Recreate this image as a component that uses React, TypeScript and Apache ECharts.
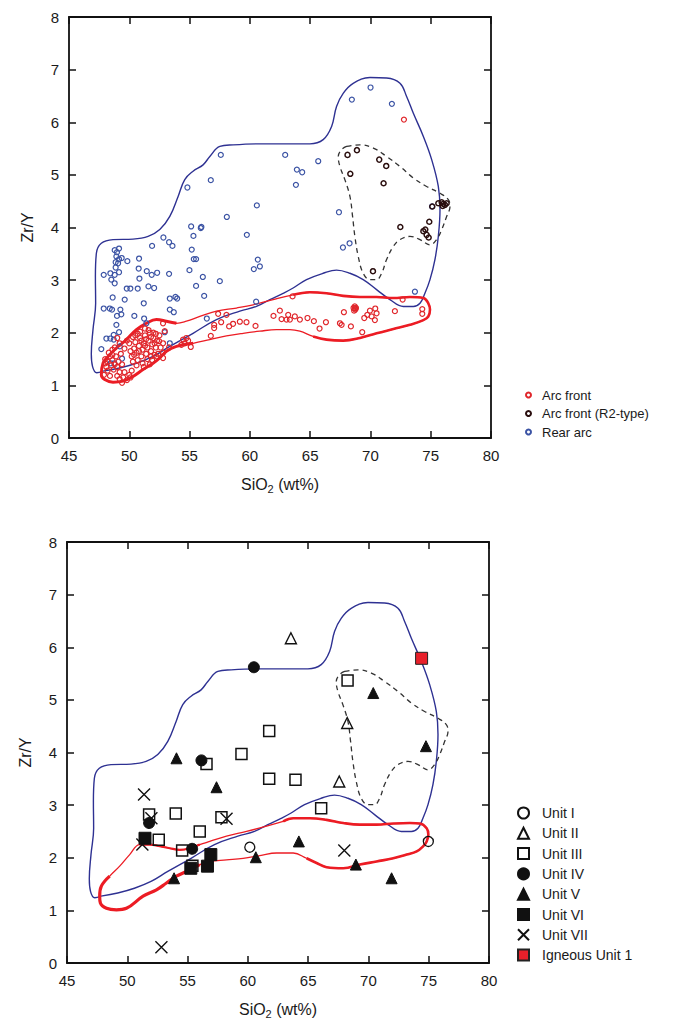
import React, { useEffect, useRef } from "react";
import * as echarts from "echarts";

const FONT = "Liberation Sans, Arial, Helvetica, sans-serif";

// ---------- Top panel data (SiO2 wt%, Zr/Y) ----------
const rearArc: number[][] = [
  [70.01, 6.66], [68.46, 6.43], [71.78, 6.35],
  [57.59, 5.38], [62.93, 5.38], [65.67, 5.26], [56.76, 4.9], [54.82, 4.76], [63.9, 5.1], [64.34, 5.05], [63.82, 4.81],
  [60.58, 4.42], [58.09, 4.2], [67.39, 4.29], [55.13, 4.02], [55.93, 3.99], [55.98, 4.01], [55.32, 3.84], [59.75, 3.86], [67.72, 3.62], [68.27, 3.7],
  [52.83, 3.81], [51.89, 3.65], [53.3, 3.72], [53.58, 3.65], [55.18, 3.58], [55.35, 3.4], [55.54, 3.4], [60.66, 3.39], [60.33, 3.21], [60.83, 3.26],
  [54.99, 3.19], [56.1, 3.06], [53.3, 3.12], [52.31, 3.14], [51.86, 3.1], [51.45, 3.17], [50.78, 3.22], [50.81, 3.41], [49.84, 3.36], [50.84, 3.03],
  [55.54, 2.89], [57.51, 2.98], [56.21, 2.7], [51.59, 2.88], [52.06, 2.85], [50.7, 2.84], [50.09, 2.84], [49.79, 2.84], [51.2, 2.56], [49.62, 2.63], [48.62, 2.67],
  [47.88, 2.46], [48.38, 2.46], [48.57, 2.44], [49.26, 2.44], [48.98, 2.32], [49.34, 2.35], [50.42, 2.32], [53.36, 2.65], [53.83, 2.68], [53.97, 2.65], [53.36, 2.44], [53.69, 2.39],
  [51.23, 2.27], [56.43, 2.27], [60.52, 2.59], [73.69, 2.78], [75.11, 4.4], [48.76, 1.42], [49.4, 1.51], [48.46, 1.42],
  [49.15, 3.6], [48.79, 3.57], [48.93, 3.45], [49.37, 3.42], [49.07, 3.32], [48.87, 3.24], [49.15, 3.15], [48.79, 3.1], [48.43, 3.13], [47.88, 3.1], [48.51, 3.01], [48.79, 2.94], [49.15, 3.4], [48.87, 3.34], [48.98, 3.53],
  [48.93, 2.15], [49.15, 2.01], [48.71, 1.96], [48.1, 1.89], [48.43, 1.89], [48.71, 1.87], [47.68, 1.69], [49.21, 1.74], [51.42, 2.18], [52.94, 2.01], [53.36, 1.8]
];

const arcFront: number[][] = [
  [72.78, 6.05],
  [63.54, 2.69], [72.67, 2.63], [72.03, 2.41], [74.3, 2.45], [74.3, 2.36], [70.4, 2.46], [69.96, 2.42], [70.51, 2.37], [70.1, 2.31], [69.49, 2.28], [70.37, 2.24], [69.74, 2.34],
  [69.32, 2.01], [68.38, 2.12], [67.8, 2.39], [67.47, 2.18], [67.61, 2.15], [66.31, 2.2], [65.78, 2.08], [65.31, 2.22], [64.78, 2.28], [64.15, 2.25], [63.73, 2.31], [63.18, 2.34],
  [63.32, 2.25], [63.04, 2.25], [62.63, 2.26], [62.49, 2.42], [61.96, 2.32], [60.47, 2.13], [59.72, 2.2], [59.17, 2.21], [58.61, 2.17], [58.28, 2.12], [57.62, 2.2], [57.04, 2.15],
  [57.04, 2.09], [57.37, 2.36], [58.06, 2.34], [56.76, 1.94], [55.1, 1.73], [54.88, 1.85], [54.46, 1.87], [54.32, 1.77], [54.6, 1.8], [54.74, 1.9], [53.3, 1.72], [52.8, 1.8],
  [52.8, 2.18], [52.94, 2.03], [52.47, 1.84], [52.25, 1.55], [52.8, 1.52],
  [68.6, 2.47], [68.75, 2.44], [68.7, 2.5], [68.8, 2.47], [68.65, 2.42], [68.72, 2.46],
  [48.0, 1.5], [48.2, 1.45], [48.4, 1.55], [48.6, 1.48], [48.8, 1.4], [48.1, 1.35], [48.3, 1.62], [48.5, 1.38], [48.9, 1.55], [49.1, 1.45],
  [49.3, 1.6], [48.2, 1.28], [48.7, 1.3], [49.0, 1.35], [49.4, 1.4], [48.0, 1.42], [48.6, 1.58], [49.2, 1.25], [47.9, 1.2], [48.4, 1.18],
  [49.2, 1.12], [49.5, 1.15], [49.8, 1.1], [50.0, 1.2], [49.6, 1.25], [50.2, 1.28], [49.4, 1.05], [50.1, 1.15], [49.0, 1.18],
  [50.2, 1.55], [50.4, 1.7], [50.5, 1.82], [50.6, 1.62], [50.8, 1.75], [50.9, 1.9], [51.0, 1.55], [51.1, 1.68], [51.2, 1.8], [51.3, 1.95],
  [51.4, 1.6], [51.5, 1.72], [51.6, 1.85], [51.7, 2.0], [51.8, 1.65], [51.9, 1.78], [52.0, 1.9], [52.1, 1.58], [52.2, 1.72], [52.3, 1.85],
  [50.3, 1.45], [50.7, 1.48], [51.1, 1.42], [51.5, 1.5], [51.9, 1.48], [52.4, 1.6], [50.5, 1.95], [50.9, 2.02], [51.3, 2.08], [51.6, 2.05],
  [52.0, 2.0], [52.5, 1.95], [50.1, 1.65], [50.0, 1.8], [50.3, 1.92], [50.7, 1.98], [51.0, 1.85], [51.4, 1.88], [51.8, 1.92], [52.2, 1.98],
  [50.6, 1.38], [51.2, 1.35], [51.7, 1.4], [52.6, 1.72], [52.8, 1.62], [50.4, 1.58], [51.8, 1.55], [52.1, 1.8], [51.3, 1.75], [50.8, 1.65],
  [48.8, 1.72], [49.2, 1.8], [49.0, 1.9], [49.6, 1.7], [49.8, 1.85], [48.6, 1.68]
];

const arcFrontR2: number[][] = [
  [68.1, 5.38], [68.88, 5.47], [68.33, 5.02], [70.73, 5.29], [71.31, 5.17], [71.09, 4.84], [70.21, 3.17], [72.48, 4.01],
  [74.88, 4.11], [74.55, 3.96], [74.39, 3.93], [74.66, 3.86], [74.83, 3.81], [75.13, 4.4], [75.63, 4.46], [75.91, 4.48],
  [76.05, 4.45], [76.18, 4.43], [76.32, 4.46], [75.99, 4.41]
];

// ---------- Field outlines (data space) ----------
const rearArcField: number[][] = [
  [47.82, 1.27], [47.3, 1.24], [46.95, 1.36], [46.85, 1.6], [46.99, 2.06], [47.21, 2.56], [47.19, 3.07], [47.27, 3.51], [47.68, 3.7],
  [48.65, 3.77], [50.31, 3.78], [51.56, 3.83], [52.53, 3.96], [53.36, 4.21], [54.05, 4.59], [54.6, 4.91], [55.29, 5.07], [56.12, 5.19],
  [56.68, 5.35], [57.51, 5.54], [58.61, 5.57], [60.83, 5.59], [63.59, 5.59], [64.98, 5.59], [66.08, 5.67], [66.78, 5.92], [67.19, 6.3],
  [67.74, 6.55], [68.57, 6.74], [69.96, 6.85], [71.34, 6.84], [72.45, 6.74], [73.0, 6.49], [73.56, 6.17], [74.39, 5.73], [75.08, 5.29],
  [75.63, 4.78], [75.77, 4.34], [75.63, 3.83], [75.35, 3.39], [74.94, 3.01], [74.52, 2.75], [74.11, 2.56], [73.56, 2.5], [72.73, 2.5],
  [71.62, 2.63], [70.51, 2.82], [69.4, 3.01], [68.3, 3.13], [67.19, 3.19], [66.08, 3.13], [64.7, 3.01], [63.59, 2.85], [62.76, 2.75],
  [61.66, 2.63], [60.55, 2.5], [59.17, 2.41], [57.23, 2.25], [55.29, 1.99], [53.36, 1.74], [51.97, 1.55], [50.59, 1.42], [49.21, 1.33], [47.82, 1.27]
];

const arcFrontFieldTop: number[][] = [
  [47.68, 1.2], [47.82, 1.42], [48.24, 1.55], [48.93, 1.71], [49.76, 1.87], [50.59, 2.06], [51.42, 2.18], [52.25, 2.25], [53.08, 2.22],
  [53.91, 2.18], [54.74, 2.22], [55.85, 2.31], [57.23, 2.41], [58.89, 2.47], [60.27, 2.53], [61.93, 2.63], [63.59, 2.72], [64.98, 2.77],
  [66.36, 2.75], [67.74, 2.7], [69.13, 2.68], [70.51, 2.68], [71.9, 2.66], [73.28, 2.68], [74.39, 2.66], [74.8, 2.56], [74.94, 2.44],
  [74.8, 2.31], [74.39, 2.24], [73.28, 2.15], [71.9, 2.07], [70.51, 1.99], [69.13, 1.9], [67.74, 1.85], [66.36, 1.87], [65.25, 1.93],
  [64.15, 2.03], [63.32, 2.06], [62.21, 2.06], [60.83, 2.03], [59.44, 1.99], [58.06, 1.94], [56.68, 1.87], [55.29, 1.8], [53.91, 1.74],
  [53.08, 1.65], [52.53, 1.52], [51.97, 1.42], [51.14, 1.3], [50.31, 1.17], [49.48, 1.08], [48.65, 1.06], [47.96, 1.11], [47.68, 1.2]
];

const arcFrontFieldBottom: number[][] = [
  [47.71, 1.27], [47.85, 1.46], [48.54, 1.65], [49.37, 1.84], [50.2, 2.06], [51.03, 2.25], [51.86, 2.25], [52.69, 2.22], [53.52, 2.18],
  [54.35, 2.15], [55.18, 2.18], [56.01, 2.25], [56.84, 2.31], [58.23, 2.41], [59.89, 2.5], [61.55, 2.6], [62.93, 2.69], [63.76, 2.75],
  [65.14, 2.75], [66.53, 2.72], [67.91, 2.66], [69.29, 2.63], [70.68, 2.63], [72.06, 2.65], [73.44, 2.66], [74.27, 2.65], [74.83, 2.56],
  [74.97, 2.44], [74.83, 2.31], [74.55, 2.22], [74.0, 2.12], [73.17, 2.06], [72.06, 1.99], [70.68, 1.93], [69.29, 1.87], [67.91, 1.8],
  [66.53, 1.82], [65.7, 1.9], [64.87, 1.99], [63.76, 2.09], [62.38, 2.09], [60.99, 2.04], [59.61, 1.99], [58.23, 1.96], [56.84, 1.93],
  [56.01, 1.87], [55.18, 1.77], [54.08, 1.65], [53.25, 1.52], [52.42, 1.39], [51.31, 1.27], [49.93, 1.04], [49.1, 1.01], [48.27, 1.04],
  [47.77, 1.14], [47.71, 1.27]
];

const r2Field: number[][] = [
  [68.02, 5.54], [69.13, 5.57], [70.24, 5.51], [71.34, 5.35], [72.45, 5.16], [73.56, 4.94], [74.66, 4.78], [75.77, 4.65], [76.46, 4.53],
  [76.6, 4.4], [76.32, 4.21], [75.91, 3.96], [75.49, 3.77], [74.94, 3.67], [74.11, 3.77], [73.28, 3.83], [72.45, 3.77], [71.9, 3.64],
  [71.34, 3.39], [70.93, 3.13], [70.51, 3.01], [69.96, 3.01], [69.4, 3.13], [68.99, 3.45], [68.71, 3.83], [68.52, 4.21], [68.3, 4.59],
  [67.88, 4.91], [67.47, 5.16], [67.33, 5.35], [67.61, 5.48], [68.02, 5.54]
];

// ---------- Bottom panel data ----------
const unitI: number[][] = [[60.16, 2.2], [74.97, 2.31]];
const unitII: number[][] = [[63.57, 6.17], [68.24, 4.56], [67.58, 3.45]];
const unitIII: number[][] = [
  [68.27, 5.37], [61.77, 4.41], [59.47, 3.97], [56.57, 3.78], [61.77, 3.5], [63.95, 3.48], [66.08, 2.94],
  [51.81, 2.82], [54.02, 2.84], [57.81, 2.77], [56.01, 2.5], [52.61, 2.34], [54.55, 2.14], [55.4, 1.85]
];
const unitIV: number[][] = [[60.5, 5.62], [56.15, 3.85], [51.81, 2.66], [55.38, 2.17]];
const unitV: number[][] = [
  [54.08, 3.89], [57.4, 3.34], [70.4, 5.13], [74.77, 4.12], [64.23, 2.31], [60.66, 2.01], [53.88, 1.61], [68.96, 1.87], [71.92, 1.61]
];
const unitVI: number[][] = [[51.47, 2.37], [56.93, 2.06], [55.27, 1.8], [56.65, 1.84]];
const unitVII: number[][] = [[51.39, 3.2], [52.0, 2.75], [58.23, 2.74], [51.25, 2.25], [68.0, 2.14], [52.83, 0.3]];
const igneousUnit1: number[][] = [[74.41, 5.79]];

const topLegend = ["Arc front", "Arc front (R2-type)", "Rear arc"];
const bottomLegend = ["Unit I", "Unit II", "Unit III", "Unit IV", "Unit V", "Unit VI", "Unit VII", "Igneous Unit 1"];

const X_MIN = 45, X_MAX = 80, X_STEP = 5;
const Y_MIN = 0, Y_MAX = 8, Y_STEP = 1;

const BLUE_LINE = "#2e3192";
const RED_LINE = "#ec1c24";
const CROSS = "path://M0,0L10,10M0,10L10,0";

function axisBase(show: boolean) {
  return {
    type: "value" as const,
    axisLine: { show: true, onZero: false, lineStyle: { color: "#111", width: 1.8 } },
    axisTick: { show: true, inside: true, length: 7, lineStyle: { color: "#111", width: 1.5 } },
    axisLabel: { show, color: "#1a1a1a", fontSize: 15, fontFamily: FONT },
    splitLine: { show: false },
  };
}

function xAxis(grid: number, pos: "bottom" | "top") {
  const show = pos === "bottom";
  return {
    ...axisBase(show),
    gridIndex: grid, position: pos, min: X_MIN, max: X_MAX, interval: X_STEP,
    axisLabel: { show, color: "#1a1a1a", fontSize: 15, fontFamily: FONT, margin: 10 },
    name: show ? "{a|SiO}{b|2}{a| (wt%)}" : "",
    nameLocation: "middle" as const, nameGap: 36,
    nameTextStyle: {
      fontSize: 16, color: "#1a1a1a", fontFamily: FONT,
      rich: { a: { fontSize: 16, fontFamily: FONT, color: "#1a1a1a" }, b: { fontSize: 11, fontFamily: FONT, color: "#1a1a1a", padding: [9, 0, 0, 0] } },
    },
  };
}

function yAxis(grid: number, pos: "left" | "right") {
  const show = pos === "left";
  return {
    ...axisBase(show),
    gridIndex: grid, position: pos, min: Y_MIN, max: Y_MAX, interval: Y_STEP,
    axisLabel: { show, color: "#1a1a1a", fontSize: 15, fontFamily: FONT, margin: 10 },
    name: show ? "Zr/Y" : "",
    nameLocation: "middle" as const, nameGap: 34, nameRotate: 90,
    nameTextStyle: { fontSize: 16, color: "#1a1a1a", fontFamily: FONT },
  };
}

function outline(name: string, data: number[][], xi: number, yi: number, color: string, width: number, dashed = false) {
  return {
    name, type: "line" as const, xAxisIndex: xi, yAxisIndex: yi, data,
    smooth: 0.4, showSymbol: false, silent: true, z: 1,
    lineStyle: { color, width, type: dashed ? [5, 4] : "solid" },
  };
}

function hollow(name: string, data: number[][], xi: number, yi: number, color: string, symbol: string, size: number, bw: number) {
  return {
    name, type: "scatter" as const, xAxisIndex: xi, yAxisIndex: yi, data, symbol, symbolSize: size,
    itemStyle: { color: "transparent", borderColor: color, borderWidth: bw, opacity: 1 },
    z: 3,
  };
}

function filled(name: string, data: number[][], xi: number, yi: number, color: string, symbol: string, size: number, border = "#111") {
  return {
    name, type: "scatter" as const, xAxisIndex: xi, yAxisIndex: yi, data, symbol, symbolSize: size,
    itemStyle: { color, borderColor: border, borderWidth: 1, opacity: 1 },
    z: 4,
  };
}

export default function App() {
  const ref = useRef<HTMLDivElement>(null);
  useEffect(() => {
    if (!ref.current) return;
    const chart = echarts.init(ref.current, null, { renderer: "svg" });
    const topThick1 = [...arcFrontFieldTop.slice(43), ...arcFrontFieldTop.slice(1, 10)];
    const topThick2 = arcFrontFieldTop.slice(16, 36);
    const botThick1 = [...arcFrontFieldBottom.slice(45), ...arcFrontFieldBottom.slice(1, 3)];
    const botThick2 = arcFrontFieldBottom.slice(5, 12);
    const botThick3 = arcFrontFieldBottom.slice(16, 39);

    chart.setOption({
      animation: false,
      backgroundColor: "#fff",
      textStyle: { fontFamily: FONT },
      grid: [
        { left: 69, top: 17, width: 422, height: 421 },
        { left: 67, top: 542, width: 422, height: 421 },
      ],
      xAxis: [xAxis(0, "bottom"), xAxis(0, "top"), xAxis(1, "bottom"), xAxis(1, "top")],
      yAxis: [yAxis(0, "left"), yAxis(0, "right"), yAxis(1, "left"), yAxis(1, "right")],
      legend: [
        {
          data: topLegend, orient: "vertical", left: 520, top: 383,
          itemWidth: 5, itemHeight: 5, itemGap: 4.5, selectedMode: false,
          textStyle: { fontSize: 13, color: "#1a1a1a", fontFamily: FONT, lineHeight: 14, padding: [0, 0, 0, 6] },
        },
        {
          data: bottomLegend, orient: "vertical", left: 512, top: 801,
          itemWidth: 11, itemHeight: 11, itemGap: 6.3, selectedMode: false,
          textStyle: { fontSize: 14, color: "#1a1a1a", fontFamily: FONT, lineHeight: 14, padding: [0, 0, 0, 8] },
        },
      ],
      series: [
        outline("rearField1", rearArcField, 0, 0, BLUE_LINE, 1.4),
        outline("arcField1", arcFrontFieldTop, 0, 0, RED_LINE, 1.3),
        outline("arcField1a", topThick1, 0, 0, RED_LINE, 3),
        outline("arcField1b", topThick2, 0, 0, RED_LINE, 2.6),
        outline("r2Field1", r2Field, 0, 0, "#333", 1.3, true),
        hollow("Rear arc", rearArc, 0, 0, "#3b53a4", "circle", 5, 1.2),
        hollow("Arc front", arcFront, 0, 0, "#e0262b", "circle", 5, 1.2),
        hollow("Arc front (R2-type)", arcFrontR2, 0, 0, "#2a0e0e", "circle", 5, 1.5),

        outline("rearField2", rearArcField, 2, 2, BLUE_LINE, 1.4),
        outline("arcField2", arcFrontFieldBottom, 2, 2, RED_LINE, 1.3),
        outline("arcField2a", botThick1, 2, 2, RED_LINE, 3.2),
        outline("arcField2b", botThick2, 2, 2, RED_LINE, 2.2),
        outline("arcField2c", botThick3, 2, 2, RED_LINE, 2.6),
        outline("r2Field2", r2Field, 2, 2, "#333", 1.3, true),
        hollow("Unit I", unitI, 2, 2, "#111", "circle", 10, 1.3),
        hollow("Unit II", unitII, 2, 2, "#111", "triangle", 11, 1.4),
        hollow("Unit III", unitIII, 2, 2, "#111", "rect", 11, 1.5),
        filled("Unit IV", unitIV, 2, 2, "#111", "circle", 11),
        filled("Unit V", unitV, 2, 2, "#111", "triangle", 11),
        filled("Unit VI", unitVI, 2, 2, "#111", "rect", 12),
        hollow("Unit VII", unitVII, 2, 2, "#111", CROSS, 12, 1.4),
        filled("Igneous Unit 1", igneousUnit1, 2, 2, "#e8202a", "rect", 12, "#222"),
      ],
    });
    return () => chart.dispose();
  }, []);
  return (
    <div
      ref={ref}
      style={{ position: "absolute", left: 0, top: 0, width: 680, height: 1022, background: "#fff" }}
    />
  );
}
